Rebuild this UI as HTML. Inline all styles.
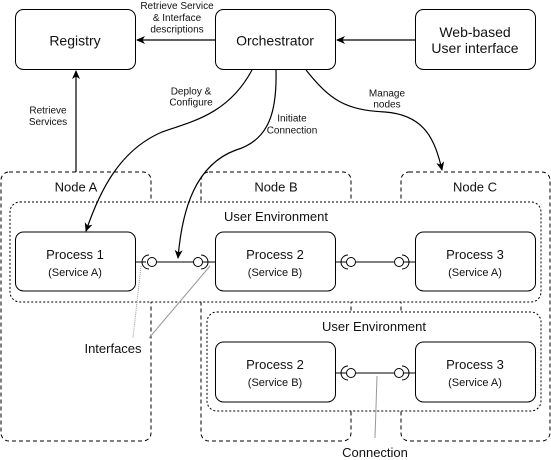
<!DOCTYPE html>
<html><head><meta charset="utf-8"><style>
body{margin:0;background:#fff}
svg{display:block}
text{font-family:"Liberation Sans",sans-serif;fill:#111}
</style></head><body>
<svg width="551" height="460" viewBox="0 0 551 460" xmlns="http://www.w3.org/2000/svg">
<defs>
<marker id="ar" markerWidth="10" markerHeight="10" refX="8" refY="5" orient="auto" markerUnits="userSpaceOnUse">
<path d="M0,1 L9,5 L0,9 L2.5,5 Z" fill="#000"/>
</marker>
</defs>
<g fill="#fff" stroke="#000" stroke-dasharray="4 3" stroke-width="1">
<rect x="1" y="172" width="150" height="269" rx="8"/>
<rect x="201" y="172" width="150" height="269" rx="8"/>
<rect x="401" y="172" width="149" height="269" rx="8"/>
</g>
<g font-size="13" text-anchor="middle">
<text x="76" y="191.5">Node A</text>
<text x="276" y="191.5">Node B</text>
<text x="475" y="191.5">Node C</text>
</g>
<g fill="#fff" stroke="#000" stroke-dasharray="2 2" stroke-width="1">
<rect x="10" y="202" width="531" height="100" rx="10"/>
<rect x="207" y="312" width="334" height="99" rx="10"/>
</g>
<g font-size="13" text-anchor="middle">
<text x="276" y="221">User Environment</text>
<text x="374" y="331">User Environment</text>
</g>
<g fill="#fff" stroke="#000" stroke-width="1">
<rect x="15.5" y="9.5" width="120" height="60" rx="8"/>
<rect x="215.5" y="9.5" width="120" height="60" rx="8"/>
<rect x="415.5" y="9.5" width="120" height="60" rx="8"/>
<rect x="15.5" y="232" width="120" height="59" rx="8"/>
<rect x="215.5" y="232" width="120" height="59" rx="8"/>
<rect x="415.5" y="232" width="120" height="59" rx="8"/>
<rect x="215.5" y="342" width="120" height="60" rx="8"/>
<rect x="415.5" y="342" width="120" height="60" rx="8"/>
</g>
<g font-size="14" text-anchor="middle">
<text x="75" y="45.5">Registry</text>
<text x="275" y="45.5">Orchestrator</text>
<text x="475" y="37">Web-based</text>
<text x="475" y="53">User interface</text>
</g>
<g font-size="13" text-anchor="middle">
<text x="75" y="259">Process 1</text>
<text x="275" y="259">Process 2</text>
<text x="475" y="259">Process 3</text>
<text x="275" y="369">Process 2</text>
<text x="475" y="369">Process 3</text>
</g>
<g font-size="11" text-anchor="middle">
<text x="75" y="276">(Service A)</text>
<text x="275" y="276">(Service B)</text>
<text x="475" y="276">(Service A)</text>
<text x="275" y="386">(Service B)</text>
<text x="475" y="386">(Service A)</text>
</g>
<g fill="none" stroke="#000" stroke-width="1">
<path d="M135.5 262H146 M156 262H194 M203 262H215"/>
<circle cx="152" cy="262" r="4.5"/><path d="M149 255a7 7 0 0 0 0 14"/>
<circle cx="198" cy="262" r="4.5"/><path d="M201 255a7 7 0 0 1 0 14"/>
<path d="M335.5 262H346 M356 262H394 M404 262H415"/>
<circle cx="351" cy="262" r="4.5"/><path d="M348 255a7 7 0 0 0 0 14"/>
<circle cx="399" cy="262" r="4.5"/><path d="M402 255a7 7 0 0 1 0 14"/>
<path d="M335.5 373H346 M356 373H394 M404 373H415"/>
<circle cx="351" cy="373" r="4.5"/><path d="M348 366a7 7 0 0 0 0 14"/>
<circle cx="399" cy="373" r="4.5"/><path d="M402 366a7 7 0 0 1 0 14"/>
</g>
<g stroke="#999" stroke-width="1" fill="none">
<path d="M141 266 L133 338" stroke-dasharray="1 1"/>
<path d="M210 266 L149 338"/>
<path d="M377 376 L375 438"/>
</g>
<g font-size="13" text-anchor="middle">
<text x="113" y="353">Interfaces</text>
<text x="375" y="457">Connection</text>
</g>
<g fill="none" stroke="#000" stroke-width="1.2">
<path d="M215 40H137" marker-end="url(#ar)"/>
<path d="M415 40H337" marker-end="url(#ar)"/>
<path d="M76 172V71" marker-end="url(#ar)"/>
<path d="M252 70 C228 115 190 122 162 132 C120 150 100 190 86 231" marker-end="url(#ar)"/>
<path d="M276 70 C277 110 270 140 236 150 C195 165 182 210 178 258" marker-end="url(#ar)"/>
<path d="M306 70 C330 100 345 110 385 112 C425 115 435 140 442 170" marker-end="url(#ar)"/>
</g>
<g font-size="10" text-anchor="middle">
<text x="177" y="9">Retrieve Service</text>
<text x="177" y="21">&amp; Interface</text>
<text x="177" y="32.5">descriptions</text>
<text x="191" y="94.5">Deploy &amp;</text>
<text x="191" y="105.5">Configure</text>
<text x="292" y="121.5">Initiate</text>
<text x="292" y="133.5">Connection</text>
<text x="387" y="96.5">Manage</text>
<text x="387" y="107.5">nodes</text>
<text x="48" y="113.5">Retrieve</text>
<text x="48" y="125">Services</text>
</g>
</svg>
</body></html>
